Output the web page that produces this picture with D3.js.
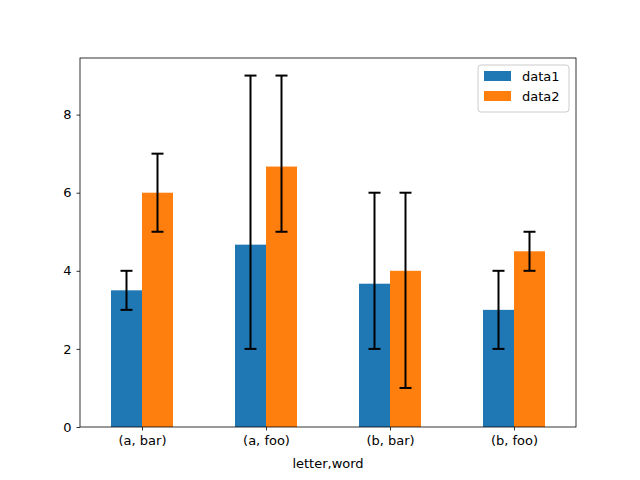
<!DOCTYPE html>
<html>
<head>
<meta charset="utf-8">
<script src="https://cdn.jsdelivr.net/npm/d3@7"></script>
<style>
  body { margin: 0; background: #fff; }
  svg { font-family: "DejaVu Sans", sans-serif; }
</style>
</head>
<body>
<div id="chart"></div>
<script>
// Chart data
var categories = ["(a, bar)", "(a, foo)", "(b, bar)", "(b, foo)"];
var seriesNames = ["data1", "data2"];
var data1 = [3.5, 4.67, 3.67, 3.0];
var data2 = [6.0, 6.67, 4.0, 4.5];
// error bar ends (low, high)
var data1Low = [3, 2, 2, 2];
var data1High = [4, 9, 6, 4];
var data2Low = [5, 5, 1, 4];
var data2High = [7, 9, 6, 5];
var yTicks = [0, 2, 4, 6, 8];
var colors = ["#1f77b4", "#ff7f0e"];

var margin = {top: 58, right: 64, bottom: 53, left: 80},
    width = 640 - margin.left - margin.right,
    height = 480 - margin.top - margin.bottom;

var svg = d3.select("#chart")
  .append("svg")
    .attr("width", 640)
    .attr("height", 480)
  .append("g")
    .attr("transform", "translate(" + margin.left + "," + margin.top + ")");

// x: category index, matplotlib style limits -0.5 .. n-0.5
var x = d3.scaleLinear()
  .domain([-0.5, categories.length - 0.5])
  .range([0, width]);

var yMax = d3.max(data1High.concat(data2High)) * 1.05;
var y = d3.scaleLinear()
  .domain([0, yMax])
  .range([height, 0]);

var barW = 0.25;
var series = [
  {name: seriesNames[0], values: data1, low: data1Low, high: data1High, offset: -barW / 2},
  {name: seriesNames[1], values: data2, low: data2Low, high: data2High, offset: barW / 2}
];

series.forEach(function(s, si) {
  var g = svg.append("g");
  g.selectAll("rect")
    .data(s.values)
    .enter()
    .append("rect")
      .attr("x", function(d, i) { return x(i + s.offset - barW / 2); })
      .attr("width", function() { return x(barW) - x(0); })
      .attr("y", function(d) { return y(d); })
      .attr("height", function(d) { return height - y(d); })
      .style("fill", colors[si]);
});

// error bars drawn on top
series.forEach(function(s) {
  var g = svg.append("g");
  s.values.forEach(function(d, i) {
    var cx = x(i + s.offset);
    g.append("line")
      .attr("x1", cx).attr("x2", cx)
      .attr("y1", y(s.low[i])).attr("y2", y(s.high[i]))
      .attr("stroke", "#000").attr("stroke-width", 2);
    [s.low[i], s.high[i]].forEach(function(v) {
      g.append("line")
        .attr("x1", cx - 6).attr("x2", cx + 6)
        .attr("y1", y(v)).attr("y2", y(v))
        .attr("stroke", "#000").attr("stroke-width", 2);
    });
  });
});

// axes
var xAxis = svg.append("g")
  .attr("transform", "translate(0," + height + ")")
  .call(d3.axisBottom(x)
    .tickValues(d3.range(categories.length))
    .tickFormat(function(i) { return categories[i]; })
    .tickSize(3.5).tickSizeOuter(0).tickPadding(5));

var yAxis = svg.append("g")
  .call(d3.axisLeft(y)
    .tickValues(yTicks)
    .tickFormat(d3.format("d"))
    .tickSize(3.5).tickSizeOuter(0).tickPadding(5));

[xAxis, yAxis].forEach(function(a) {
  a.select(".domain").remove();
  a.selectAll("text").style("font-size", "13px").style("fill", "#000")
    .style("font-family", "DejaVu Sans");
  a.selectAll("line").style("stroke", "#000").style("stroke-width", 0.8);
});

// frame
svg.append("rect")
  .attr("width", width).attr("height", height)
  .style("fill", "none").style("stroke", "#000").style("stroke-width", 0.8);

svg.append("text")
  .attr("x", width / 2).attr("y", height + 41)
  .attr("text-anchor", "middle")
  .style("font-size", "13px")
  .text("letter,word");

// legend
var legend = svg.append("g")
  .attr("transform", "translate(" + (width - 98) + ",7)");
legend.append("rect")
  .attr("width", 91).attr("height", 47).attr("rx", 3)
  .style("fill", "#fff").style("fill-opacity", 0.8)
  .style("stroke", "#ccc").style("stroke-width", 1);
seriesNames.forEach(function(n, i) {
  legend.append("rect")
    .attr("x", 6).attr("y", 6 + i * 20)
    .attr("width", 27).attr("height", 10)
    .style("fill", colors[i]);
  legend.append("text")
    .attr("x", 44).attr("y", 16 + i * 20)
    .style("font-size", "13px")
    .text(n);
});
</script>
</body>
</html>
